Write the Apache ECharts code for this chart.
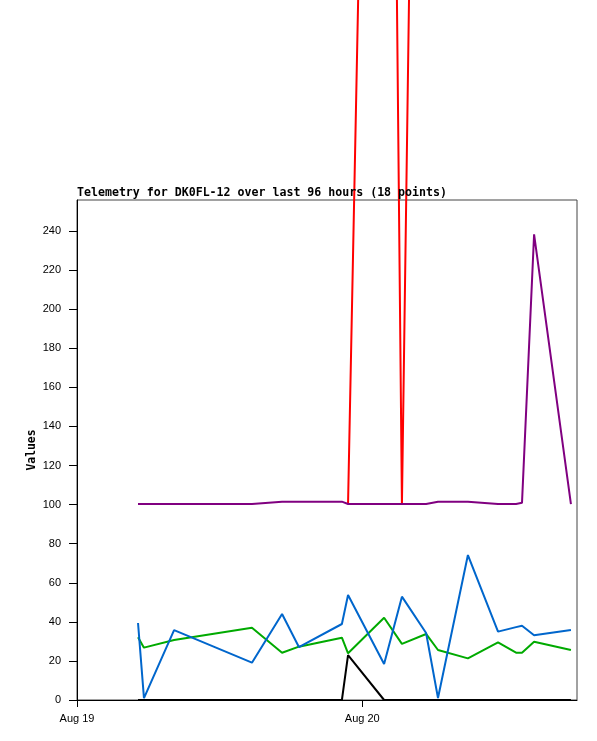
<!DOCTYPE html>
<html>
<head>
<meta charset="utf-8">
<script src="https://cdn.jsdelivr.net/npm/echarts@6/dist/echarts.min.js"></script>
<style>
html,body{margin:0;padding:0;background:#fff;}
#chart{width:597px;height:741px;}
</style>
</head>
<body>
<div id="chart"></div>
<script>
// Sample times (local), 18 points
var times = ['2024-08-19 05:08','2024-08-19 05:38','2024-08-19 08:10','2024-08-19 14:43','2024-08-19 17:15','2024-08-19 18:40',
             '2024-08-19 22:17','2024-08-19 22:48','2024-08-20 01:50','2024-08-20 03:20','2024-08-20 05:22','2024-08-20 06:22',
             '2024-08-20 08:53','2024-08-20 11:25','2024-08-20 12:56','2024-08-20 13:26','2024-08-20 14:27','2024-08-20 17:33'];
var redValues    = [null,null,null,null,null,null,null,100.3,1021,100.3,982,null,null,null,null,null,null,null];
var purpleValues = [100.3,100.3,100.3,100.3,101.5,101.5,101.5,100.3,100.3,100.3,100.3,101.5,101.5,100.3,100.3,100.9,238.3,100.3];
var greenValues  = [32.1,26.8,30.7,37,24.2,27.3,31.9,23.9,42.1,28.7,33.8,25.6,21.3,29.5,24.2,24.2,29.8,25.6];
var blueValues   = [39.4,1,35.8,19.1,44,27.1,38.9,53.7,18.4,52.9,34.3,1,74.2,35,37.3,38,33.1,35.8];
var blackValues  = [0,0,0,0,0,0,0,23,0,0,0,0,0,0,0,0,0,0];
var dayLabels = ['Aug 19','Aug 20'];
var dayTicks = [0, 24];
var titleText = 'Telemetry for DK0FL-12 over last 96 hours (18 points)';

function toHours(s){
  var d = parseInt(s.substr(8,2),10), h = parseInt(s.substr(11,2),10), m = parseInt(s.substr(14,2),10);
  return (d-19)*24 + h + m/60;
}
var xs = times.map(toHours);
function pairs(vals){ return vals.map(function(v,i){ return [xs[i], v]; }); }

var chart = echarts.init(document.getElementById('chart'), null, {renderer:'canvas'});
function mk(name, vals, color){
  return {name:name, type:'line', data:pairs(vals), showSymbol:false, symbol:'none', clip:false,
          connectNulls:false, lineStyle:{color:color, width:2}, itemStyle:{color:color}, animation:false, z:2};
}
chart.setOption({
  animation:false,
  backgroundColor:'#fff',
  title:{text:titleText, left:77, top:187, padding:0,
         textStyle:{fontFamily:'DejaVu Sans Mono', fontWeight:'bold', fontSize:11.6, color:'#000'}},
  grid:{left:77, right:20, top:200, bottom:41, containLabel:false, show:true, borderColor:'#444', borderWidth:1, backgroundColor:'transparent'},
  xAxis:{type:'value', min:0, max:42.06, interval:24,
         axisLine:{show:true, lineStyle:{color:'#000', width:1}},
         axisTick:{show:true, length:7, lineStyle:{color:'#000'}, customValues:dayTicks},
         splitLine:{show:false},
         axisLabel:{margin:13, fontSize:11, fontFamily:'Liberation Sans', color:'#000', customValues:dayTicks,
                    formatter:function(v){ var i = Math.round(v/24); return (Math.abs(v-i*24)<1e-6 && i<dayLabels.length) ? dayLabels[i] : ''; }}},
  yAxis:{type:'value', min:0, max:255.9, interval:20,
         name:'Values', nameLocation:'middle', nameGap:39, nameRotate:90, nameMoveOverlap:false,
         nameTextStyle:{fontFamily:'DejaVu Sans Mono', fontWeight:'bold', fontSize:11.4, color:'#000'},
         axisLine:{show:true, lineStyle:{color:'#000', width:1}},
         axisTick:{show:true, length:8, lineStyle:{color:'#000'}},
         splitLine:{show:false},
         axisLabel:{margin:16, fontSize:11, fontFamily:'Liberation Sans', color:'#000', showMaxLabel:false,
                    formatter:function(v){ return (Math.abs(v%20)<1e-6) ? String(v) : ''; }}},
  series:[
    mk('red', redValues, '#ff0000'),
    mk('purple', purpleValues, '#800080'),
    mk('green', greenValues, '#00aa00'),
    mk('blue', blueValues, '#0066cc'),
    mk('black', blackValues, '#000000')
  ]
});
</script>
</body>
</html>
